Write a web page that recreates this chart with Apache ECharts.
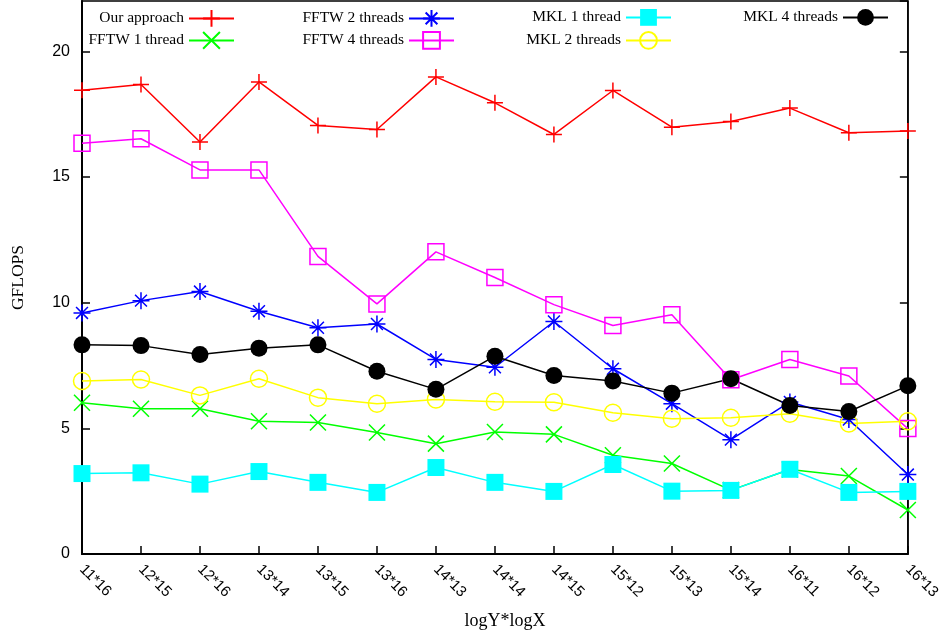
<!DOCTYPE html>
<html>
<head>
<meta charset="utf-8">
<script src="https://cdn.jsdelivr.net/npm/echarts@6/dist/echarts.min.js"></script>
<style>html,body{margin:0;padding:0;background:#fff}#c{width:943px;height:636px}</style>
</head>
<body>
<div id="c"></div>
<script>
const categories = ['11*16','12*15','12*16','13*14','13*15','13*16','14*13','14*14','14*15','15*12','15*13','15*14','16*11','16*12','16*13'];
const ourApproach = [18.45,18.68,16.39,18.78,17.05,16.89,18.98,17.95,16.69,18.44,16.98,17.21,17.74,16.76,16.83];
const fftw1 = [6.02,5.78,5.78,5.28,5.23,4.83,4.39,4.85,4.76,3.93,3.60,2.54,3.36,3.10,1.75];
const fftw2 = [9.59,10.08,10.44,9.66,9.00,9.15,7.74,7.43,9.25,7.37,5.98,4.55,6.05,5.35,3.16];
const fftw4 = [16.34,16.52,15.28,15.28,11.84,9.95,12.02,11.00,9.92,9.09,9.52,6.93,7.74,7.08,4.99];
const mkl1 = [3.20,3.23,2.78,3.28,2.85,2.45,3.44,2.85,2.49,3.56,2.50,2.53,3.37,2.45,2.49];
const mkl2 = [6.88,6.94,6.31,6.97,6.22,5.98,6.15,6.06,6.04,5.62,5.38,5.42,5.58,5.19,5.28];
const mkl4 = [8.32,8.29,7.94,8.19,8.32,7.27,6.55,7.87,7.10,6.88,6.40,6.97,5.91,5.67,6.69];
const yTicks = [0,5,10,15,20];

const SYM = {
  plus: 'path://M0,5L10,5M5,0L5,10',
  cross: 'path://M0,0L10,10M0,10L10,0',
  star: 'path://M0,5L10,5M5,0L5,10M1.5,1.5L8.5,8.5M1.5,8.5L8.5,1.5',
  box: 'path://M0,0L10,0L10,10L0,10Z'
};

function mk(name, data, color, symbol, size, fill) {
  return {
    name: name, type: 'line', data: data,
    symbol: symbol, symbolSize: size, showAllSymbol: true,
    lineStyle: { color: color, width: 1.5 },
    itemStyle: { color: fill, borderColor: color, borderWidth: 1.5 },
    emphasis: { disabled: true }
  };
}

const series = [
  mk('Our approach', ourApproach, '#ff0000', SYM.plus, 16, '#ff0000'),
  mk('FFTW 1 thread', fftw1, '#00ff00', SYM.cross, 16, '#00ff00'),
  mk('FFTW 2 threads', fftw2, '#0000ff', SYM.star, 17, '#0000ff'),
  mk('FFTW 4 threads', fftw4, '#ff00ff', SYM.box, 16, 'rgba(0,0,0,0)'),
  mk('MKL 1 thread', mkl1, '#00ffff', 'rect', 17, '#00ffff'),
  mk('MKL 2 threads', mkl2, '#ffff00', 'circle', 17, 'rgba(0,0,0,0)'),
  mk('MKL 4 threads', mkl4, '#000000', 'circle', 17, '#000000')
];
series[4].itemStyle.borderWidth = 0;
series[6].itemStyle.borderWidth = 0;

const legendPos = [
  ['Our approach', 708, 9],
  ['FFTW 1 thread', 708, 31],
  ['FFTW 2 threads', 488, 9],
  ['FFTW 4 threads', 488, 31],
  ['MKL 1 thread', 271, 9],
  ['MKL 2 threads', 271, 31],
  ['MKL 4 threads', 54, 9]
];
const legends = legendPos.map(p => ({
  data: [p[0]], right: p[1], top: p[2], padding: 0,
  align: 'right', itemWidth: 45, itemHeight: 21, selectedMode: false,
  textStyle: { fontFamily: 'Liberation Serif', fontSize: 15.5, color: '#000' }
}));

const chart = echarts.init(document.getElementById('c'), null, { renderer: 'canvas' });
chart.setOption({
  animation: false,
  backgroundColor: '#fff',
  legend: legends,
  grid: { left: 82, right: 35, top: 1, bottom: 82, show: true, borderColor: '#000', borderWidth: 1.5, backgroundColor: 'transparent', containLabel: false },
  xAxis: {
    type: 'category', data: categories, boundaryGap: false,
    name: 'logY*logX', nameLocation: 'middle', nameGap: 58,
    nameTextStyle: { fontFamily: 'Liberation Serif', fontSize: 18, color: '#000', padding: [0, 0, 0, 20] },
    axisLine: { lineStyle: { color: '#000', width: 2 } },
    axisTick: { inside: true, length: 8, alignWithLabel: true, lineStyle: { color: '#000', width: 1.5 } },
    axisLabel: { rotate: -45, margin: 13, fontFamily: 'Liberation Sans', fontSize: 15, color: '#000', interval: 0 },
    splitLine: { show: false }
  },
  yAxis: [{
    type: 'value', min: 0, max: 22, interval: 5,
    name: 'GFLOPS', nameLocation: 'middle', nameGap: 55, nameRotate: 90,
    nameTextStyle: { fontFamily: 'Liberation Serif', fontSize: 17.5, color: '#000' },
    axisLine: { show: true, lineStyle: { color: '#000', width: 2 } },
    axisTick: { show: true, inside: true, length: 8, lineStyle: { color: '#000', width: 1.5 } },
    axisLabel: { margin: 12, fontFamily: 'Liberation Sans', fontSize: 16, color: '#000', showMaxLabel: false,
      formatter: v => yTicks.indexOf(v) >= 0 ? String(v) : '' },
    splitLine: { show: false }
  }, {
    type: 'value', min: 0, max: 22, interval: 5, position: 'right',
    axisLine: { show: true, lineStyle: { color: '#000', width: 1.5 } },
    axisTick: { show: true, inside: true, length: 8, lineStyle: { color: '#000', width: 1.5 } },
    axisLabel: { show: false },
    splitLine: { show: false }
  }],
  series: series
});
</script>
</body>
</html>
